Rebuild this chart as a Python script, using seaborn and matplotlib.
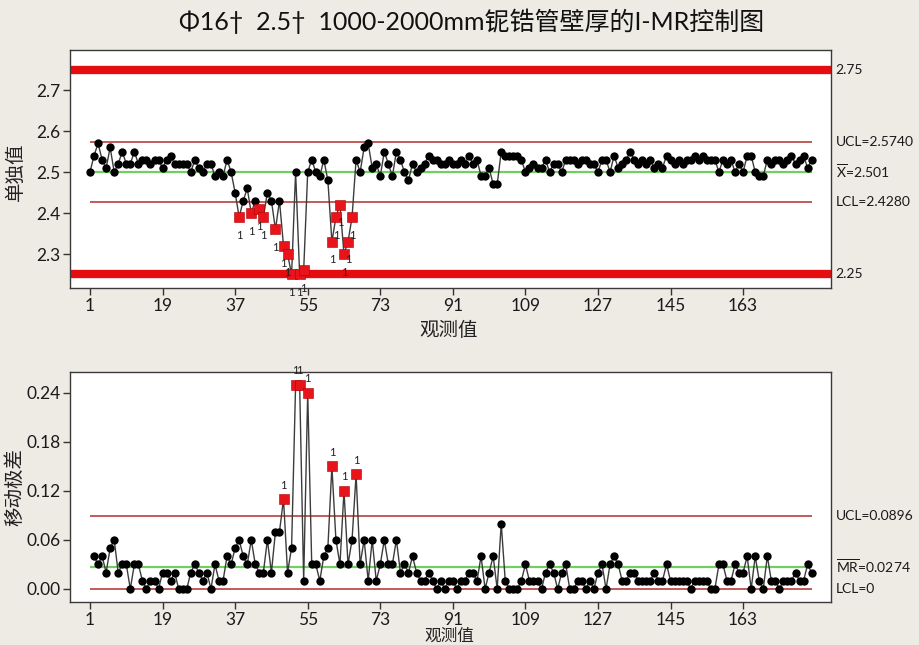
import numpy as np
import pandas as pd
import matplotlib
matplotlib.use("Agg")
import matplotlib.pyplot as plt
import seaborn as sns

# ---- chart text ----
title = "Φ16†  2.5†  1000-2000mm铌锆管壁厚的I-MR控制图"
x_label = "观测值"
i_label = "单独值"
mr_label = "移动极差"

# ---- wall thickness, individual observations (mm) ----
thickness = [
    2.50, 2.54, 2.57, 2.53, 2.51, 2.56, 2.50, 2.52, 2.55, 2.52,
    2.52, 2.55, 2.52, 2.53, 2.53, 2.52, 2.53, 2.53, 2.51, 2.53,
    2.54, 2.52, 2.52, 2.52, 2.52, 2.50, 2.53, 2.51, 2.50, 2.52,
    2.52, 2.49, 2.50, 2.49, 2.53, 2.50, 2.45, 2.39, 2.43, 2.46,
    2.40, 2.43, 2.41, 2.39, 2.45, 2.43, 2.36, 2.43, 2.32, 2.30,
    2.25, 2.50, 2.25, 2.26, 2.50, 2.53, 2.50, 2.49, 2.53, 2.48,
    2.33, 2.39, 2.42, 2.30, 2.33, 2.39, 2.53, 2.50, 2.56, 2.57,
    2.51, 2.52, 2.49, 2.55, 2.52, 2.49, 2.55, 2.53, 2.50, 2.48,
    2.52, 2.50, 2.51, 2.52, 2.54, 2.53, 2.53, 2.52, 2.52, 2.53,
    2.52, 2.52, 2.53, 2.52, 2.54, 2.52, 2.53, 2.49, 2.49, 2.51,
    2.47, 2.47, 2.55, 2.54, 2.54, 2.54, 2.54, 2.53, 2.50, 2.51,
    2.52, 2.51, 2.51, 2.53, 2.50, 2.52, 2.52, 2.50, 2.53, 2.53,
    2.53, 2.52, 2.53, 2.53, 2.52, 2.52, 2.50, 2.53, 2.53, 2.50,
    2.54, 2.51, 2.52, 2.53, 2.55, 2.53, 2.52, 2.53, 2.52, 2.53,
    2.51, 2.52, 2.51, 2.54, 2.53, 2.52, 2.53, 2.52, 2.53, 2.53,
    2.54, 2.53, 2.54, 2.53, 2.53, 2.53, 2.50, 2.53, 2.52, 2.53,
    2.50, 2.52, 2.50, 2.54, 2.54, 2.50, 2.49, 2.49, 2.53, 2.52,
    2.53, 2.53, 2.52, 2.53, 2.54, 2.52, 2.53, 2.54, 2.51, 2.53,
]

# ---- control and specification limits ----
i_ucl, i_center, i_lcl = 2.5740, 2.501, 2.4280
spec_upper, spec_lower = 2.75, 2.25
mr_ucl, mr_center, mr_lcl = 0.0896, 0.0274, 0.0

x_ticks = [1, 19, 37, 55, 73, 91, 109, 127, 145, 163]
i_ticks = [2.3, 2.4, 2.5, 2.6, 2.7]
mr_ticks = [0.00, 0.06, 0.12, 0.18, 0.24]

# ---- derived series ----
vals = np.array(thickness)
obs = np.arange(1, len(vals) + 1)
moving_range = np.round(np.abs(np.diff(vals)), 2)
mr_obs = obs[1:]

i_df = pd.DataFrame({"obs": obs, "val": vals,
                     "flag": (vals > i_ucl) | (vals < i_lcl)})
mr_df = pd.DataFrame({"obs": mr_obs, "val": moving_range,
                      "flag": moving_range > mr_ucl})

# ---- style ----
sns.set_theme(style="white")
plt.rcParams["font.family"] = ["Lato", "Noto Sans CJK SC", "DejaVu Sans"]
plt.rcParams["mathtext.fontset"] = "custom"
plt.rcParams["mathtext.rm"] = "Lato"
plt.rcParams["axes.unicode_minus"] = False

BG = "#EEEBE5"
LINE = "#3C3C3C"
FLAG = "#E8141C"
LIMIT = "#B5403F"
CENTER = "#6FCF5F"
SPEC = "#E60D10"

W, H = 920, 645
fig = plt.figure(figsize=(W / 100, H / 100), dpi=100, facecolor=BG)
ax1 = fig.add_axes([70 / W, 1 - 288 / H, 761 / W, 238 / H])
ax2 = fig.add_axes([70 / W, 1 - 602 / H, 761 / W, 230 / H])

x_lo, x_hi = -3.96, 184.8


def draw_series(ax, df):
    sns.lineplot(data=df, x="obs", y="val", color=LINE, linewidth=1.0,
                 ax=ax, zorder=3, legend=False)
    sns.scatterplot(data=df[~df["flag"]], x="obs", y="val", color="black",
                    marker="o", s=36, linewidth=0, ax=ax, zorder=4,
                    legend=False)
    sns.scatterplot(data=df[df["flag"]], x="obs", y="val", color=FLAG,
                    marker="s", s=48, edgecolor="#B00000", linewidth=0.4,
                    ax=ax, zorder=5, legend=False)


def style_axes(ax, yticks, ylim, fmt):
    ax.set_facecolor("white")
    ax.set_xlim(x_lo, x_hi)
    ax.set_ylim(*ylim)
    ax.set_xticks(x_ticks)
    ax.set_xticklabels([str(t) for t in x_ticks])
    ax.set_yticks(yticks)
    ax.set_yticklabels([fmt.format(t) for t in yticks])
    ax.tick_params(axis="both", which="major", direction="out", length=5,
                   width=1, color="#333333", labelsize=12.5,
                   labelcolor="#1A1A1A", pad=2, bottom=True, left=True)
    for sp in ax.spines.values():
        sp.set_color("#3A3A3A")
        sp.set_linewidth(1.0)
    ax.set_xlabel("")
    ax.set_ylabel("")


# ---- individuals chart ----
ax1.axhline(spec_upper, color=SPEC, lw=6, zorder=2)
ax1.axhline(spec_lower, color=SPEC, lw=6, zorder=2)
ax1.hlines([i_ucl, i_lcl], obs[0], obs[-1], color=LIMIT, lw=1.2, zorder=2)
ax1.hlines(i_center, obs[0], obs[-1], color=CENTER, lw=1.6, zorder=2)
draw_series(ax1, i_df)
for _, r in i_df[i_df["flag"]].iterrows():
    ax1.annotate("1", (r["obs"], r["val"]), xytext=(0, -9),
                 textcoords="offset points", ha="center", va="top",
                 fontsize=8, color="#222222", zorder=6)
style_axes(ax1, i_ticks, (2.217, 2.798), "{:.1f}")

ytr = ax1.get_yaxis_transform()
right_kw = dict(transform=ytr, ha="left", va="center", fontsize=10,
                color="#1A1A1A", clip_on=False)
ax1.text(1.006, spec_upper, f"{spec_upper:.2f}", **right_kw)
ax1.text(1.006, i_ucl, f"UCL={i_ucl:.4f}", **right_kw)
ax1.text(1.006, i_center, r"$\overline{\mathrm{X}}$" + f"={i_center:.3f}",
         **right_kw)
ax1.text(1.006, i_lcl, f"LCL={i_lcl:.4f}", **right_kw)
ax1.text(1.006, spec_lower, f"{spec_lower:.2f}", **right_kw)

# ---- moving range chart ----
ax2.hlines([mr_ucl, mr_lcl], obs[0], obs[-1], color=LIMIT, lw=1.2, zorder=2)
ax2.hlines(mr_center, obs[0], obs[-1], color=CENTER, lw=1.6, zorder=2)
draw_series(ax2, mr_df)
for _, r in mr_df[mr_df["flag"]].iterrows():
    ax2.annotate("1", (r["obs"], r["val"]), xytext=(0, 6),
                 textcoords="offset points", ha="center", va="bottom",
                 fontsize=8, color="#222222", zorder=6)
style_axes(ax2, mr_ticks, (-0.016, 0.2653), "{:.2f}")

ytr2 = ax2.get_yaxis_transform()
right_kw["transform"] = ytr2
ax2.text(1.006, mr_ucl, f"UCL={mr_ucl:.4f}", **right_kw)
ax2.text(1.006, mr_center, r"$\overline{\mathrm{MR}}$" + f"={mr_center:.4f}",
         **right_kw)
ax2.text(1.006, mr_lcl, f"LCL={mr_lcl:g}", **right_kw)

# ---- titles and axis captions ----
cjk = ["Noto Sans CJK SC", "DejaVu Sans"]
fig.text(472 / W, 1 - 21 / H, title, ha="center", va="center",
         fontsize=18, color="#111111",
         family=["Lato", "Noto Sans CJK SC", "DejaVu Sans"])
fig.text(15 / W, 1 - 172 / H, i_label, rotation=90, ha="center",
         va="center", fontsize=14, color="#222222", family=cjk)
fig.text(15 / W, 1 - 487 / H, mr_label, rotation=90, ha="center",
         va="center", fontsize=14, color="#222222", family=cjk)
fig.text(449 / W, 1 - 331 / H, x_label, ha="center", va="center",
         fontsize=14, color="#222222", family=cjk)
fig.text(449 / W, 1 - 636.5 / H, x_label, ha="center", va="center",
         fontsize=12, color="#222222", family=cjk)

fig.savefig("out.png", dpi=100, facecolor=BG)
